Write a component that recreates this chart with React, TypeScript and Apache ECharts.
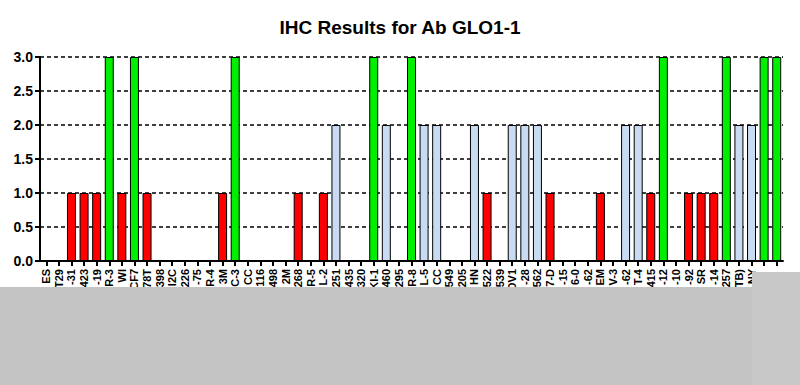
import React, { useEffect, useRef } from "react";
import * as echarts from "echarts";

const title = "IHC Results for Ab GLO1-1";

const categories: string[] = [
  "ES", "T29", "-31", "423", "-19", "R-3", "WI", "CF7", "78T", "398",
  "I2C", "226", "-75", "R-4", "3M", "C-3", "CC", "116", "498", "2M",
  "268", "R-5", "L-2", "251", "435", "320", "KI-1", "460", "295", "R-8",
  "L-5", "CC", "549", "205", "HN", "522", "539", "OV1", "-28", "562",
  "7-D", "-15", "6-0", "-62", "EM", "V-3", "-62", "T-4", "415", "-12",
  "-10", "-92", "SR", "-14", "257", "TB)", "NY", "", "",
];

const scores: number[] = [
  0, 0, 1, 1, 1, 3, 1, 3, 1, 0,
  0, 0, 0, 0, 1, 3, 0, 0, 0, 0,
  1, 0, 1, 2, 0, 0, 3, 2, 0, 3,
  2, 2, 0, 0, 2, 1, 0, 2, 2, 2,
  1, 0, 0, 0, 1, 0, 2, 2, 1, 3,
  0, 1, 1, 1, 3, 2, 2, 3, 3,
];

const scoreColors: Record<number, string> = {
  1: "#ff0000",
  2: "#c9dbf3",
  3: "#00ee00",
};

const yTicks = [0, 0.5, 1, 1.5, 2, 2.5, 3];

export default function App() {
  const ref = useRef<HTMLDivElement>(null);

  useEffect(() => {
    if (!ref.current) return;
    const chart = echarts.init(ref.current, null, { renderer: "svg" });
    chart.setOption({
      animation: false,
      backgroundColor: "#ffffff",
      title: {
        text: title,
        left: "center",
        top: 13,
        textStyle: {
          fontFamily: "Liberation Sans, Arial, sans-serif",
          fontSize: 19,
          fontWeight: "bold",
          color: "#000",
        },
      },
      grid: { left: 40, right: 17, top: 57, bottom: 124 },
      xAxis: {
        type: "category",
        data: categories,
        boundaryGap: true,
        axisLine: { show: true, lineStyle: { color: "#000", width: 2 } },
        axisTick: { show: true, alignWithLabel: true, length: 5, lineStyle: { color: "#000", width: 2 } },
        axisLabel: {
          interval: 0,
          rotate: 90,
          margin: 8,
          fontFamily: "Liberation Sans, Arial, sans-serif",
          fontSize: 11,
          fontWeight: "bold",
          color: "#000",
        },
        splitLine: { show: false },
      },
      yAxis: {
        type: "value",
        min: yTicks[0],
        max: yTicks[yTicks.length - 1],
        interval: 0.5,
        axisLine: { show: true, lineStyle: { color: "#000", width: 2 } },
        axisTick: { show: true, length: 5, lineStyle: { color: "#000", width: 2 } },
        axisLabel: {
          margin: 7,
          fontFamily: "Liberation Sans, Arial, sans-serif",
          fontSize: 14,
          fontWeight: "bold",
          color: "#000",
          formatter: (v: number) => v.toFixed(1),
        },
        splitLine: {
          show: true,
          lineStyle: { color: "#000", width: 1.5, type: [4, 3] },
        },
      },
      series: [
        {
          type: "bar",
          barWidth: 9,
          data: scores.map((v) => ({
            value: v,
            itemStyle: {
              color: scoreColors[v] || "#ffffff",
              borderColor: "#000",
              borderWidth: v > 0 ? 1 : 0,
            },
          })),
        },
      ],
      graphic: [
        {
          type: "rect",
          shape: { x: 0, y: 287, width: 800, height: 98 },
          style: { fill: "#c4c4c4" },
          z: 100,
        },
        {
          type: "rect",
          shape: { x: 752, y: 272, width: 48, height: 113 },
          style: { fill: "#c8c8c8" },
          z: 100,
        },
      ],
    });
    return () => chart.dispose();
  }, []);

  return (
    <div
      ref={ref}
      style={{ position: "fixed", left: 0, top: 0, width: 800, height: 385 }}
    />
  );
}
